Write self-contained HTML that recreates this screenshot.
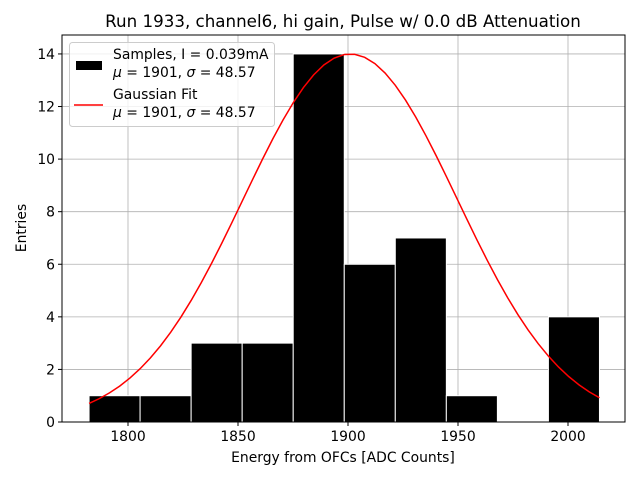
<!DOCTYPE html>
<html><head><meta charset="utf-8"><style>
body{margin:0;background:#fff;font-family:"DejaVu Sans","Liberation Sans",sans-serif}
</style></head><body>
<svg id="c" width="640" height="480" xmlns="http://www.w3.org/2000/svg">
<rect width="640" height="480" fill="#fff"/>
<text x="343" y="27" font-size="16.7" text-anchor="middle" fill="#000">Run 1933, channel6, hi gain, Pulse w/ 0.0 dB Attenuation</text>
<g id="grid"></g><g id="bars"></g><g id="fit"></g><g id="axes"></g>
<text x="343" y="462" font-size="13.9" text-anchor="middle">Energy from OFCs [ADC Counts]</text>
<text x="26" y="228" font-size="13.9" text-anchor="middle" transform="rotate(-90 26 228)">Entries</text>
<g>
<rect x="69.5" y="42.5" width="205" height="84" rx="3" fill="#fff" fill-opacity="0.8" stroke="#ccc"/>
<rect x="76" y="61" width="26" height="9" fill="#000"/>
<text x="113" y="59" font-size="13.9">Samples, I = 0.039mA</text>
<text x="113" y="77" font-size="13.9"><tspan font-style="italic">μ</tspan> = 1901, <tspan font-style="italic">σ</tspan> = 48.57</text>
<line x1="74" y1="105" x2="103" y2="105" stroke="red" stroke-width="1.5"/>
<text x="113" y="99" font-size="13.9">Gaussian Fit</text>
<text x="113" y="117" font-size="13.9"><tspan font-style="italic">μ</tspan> = 1901, <tspan font-style="italic">σ</tspan> = 48.57</text>
</g>
</svg>
<script>
const binEdgeStart = 1782.3;
const binWidth = 23.2;
const counts = [1,1,3,3,14,6,7,1,0,4];
const xTicks = [1800,1850,1900,1950,2000];
const yTicks = [0,2,4,6,8,10,12,14];
const fitMu = 1901, fitSigma = 48.57, fitAmp = 14.0;
const L=62,R=625,T=35,B=422;
const X=v=>128+(v-1800)*2.2;
const Y=v=>422-v*26.29;
const NS="http://www.w3.org/2000/svg";
function mk(p,t,a){const e=document.createElementNS(NS,t);for(const k in a)e.setAttribute(k,a[k]);document.getElementById(p).appendChild(e);return e;}
xTicks.forEach(v=>{const g=mk('grid','line',{x1:X(v),x2:X(v),y1:T,y2:B,stroke:'#b0b0b0','stroke-width':0.8});


const t=mk('axes','line',{x1:X(v),x2:X(v),y1:B,y2:B+4,stroke:'#000'});


const l=mk('axes','text',{x:X(v),y:B+19,'font-size':13.9,'text-anchor':'middle'});l.textContent=v;

});
yTicks.forEach(v=>{const g=mk('grid','line',{x1:L,x2:R,y1:Y(v),y2:Y(v),stroke:'#b0b0b0','stroke-width':0.8});


const t=mk('axes','line',{x1:L-4,x2:L,y1:Y(v),y2:Y(v),stroke:'#000'});


const l=mk('axes','text',{x:L-7,y:Y(v)+5,'font-size':13.9,'text-anchor':'end'});l.textContent=v;

});
counts.forEach((c,i)=>{const x0=X(binEdgeStart+i*binWidth),x1=X(binEdgeStart+(i+1)*binWidth);
const r=mk('bars','rect',{x:x0,y:Y(c),width:x1-x0,height:Y(0)-Y(c),fill:'#000',stroke:'#fff','stroke-width':1});

});
let pts=[];const a=binEdgeStart,b=binEdgeStart+counts.length*binWidth;
for(let i=0;i<=50;i++){const v=a+(b-a)*i/50;pts.push(X(v)+','+Y(fitAmp*Math.exp(-0.5*((v-fitMu)/fitSigma)**2)));}
const p=mk('fit','polyline',{points:pts.join(' '),fill:'none',stroke:'red','stroke-width':1.5});


const f=mk('axes','rect',{x:L,y:T,width:R-L,height:B-T,fill:'none',stroke:'#000','stroke-width':1});


</script>
</body></html>
